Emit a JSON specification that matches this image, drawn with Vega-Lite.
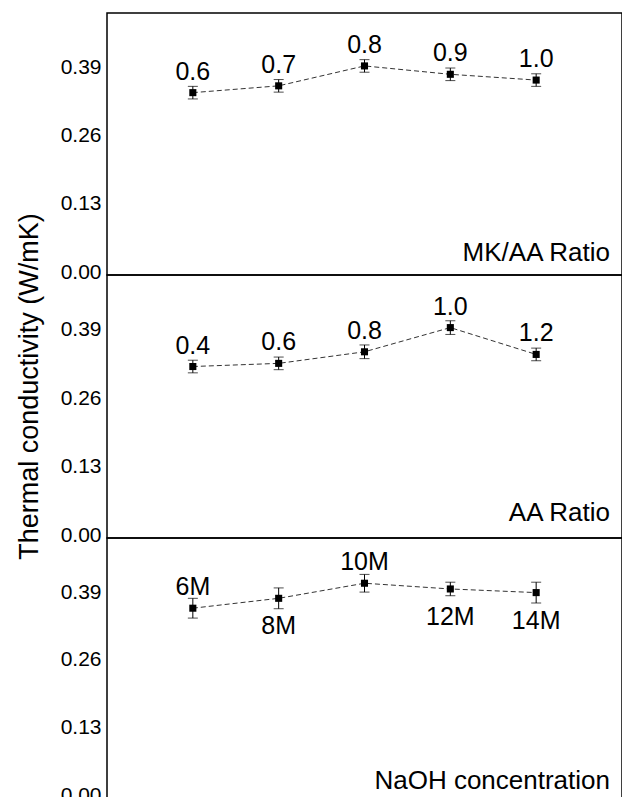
{
  "$schema": "https://vega.github.io/schema/vega-lite/v6.json",
  "autosize": {"type": "pad"},
  "padding": {"left": 14, "top": 12, "right": 0, "bottom": 0},
  "background": "white",
  "spacing": 0,
  "bounds": "flush",
  "config": {
    "font": "Liberation Sans",
    "view": {"stroke": "black", "strokeWidth": 1.5},
    "axis": {"grid": false}
  },
  "datasets": {
    "d": [
      {"panel": "MK/AA Ratio", "i": 1, "label": "0.6", "v": 0.348, "e": 0.012, "side": "above"},
      {"panel": "MK/AA Ratio", "i": 2, "label": "0.7", "v": 0.361, "e": 0.012, "side": "above"},
      {"panel": "MK/AA Ratio", "i": 3, "label": "0.8", "v": 0.399, "e": 0.012, "side": "above"},
      {"panel": "MK/AA Ratio", "i": 4, "label": "0.9", "v": 0.383, "e": 0.012, "side": "above"},
      {"panel": "MK/AA Ratio", "i": 5, "label": "1.0", "v": 0.372, "e": 0.012, "side": "above"},
      {"panel": "AA Ratio", "i": 1, "label": "0.4", "v": 0.326, "e": 0.012, "side": "above"},
      {"panel": "AA Ratio", "i": 2, "label": "0.6", "v": 0.332, "e": 0.012, "side": "above"},
      {"panel": "AA Ratio", "i": 3, "label": "0.8", "v": 0.354, "e": 0.013, "side": "above"},
      {"panel": "AA Ratio", "i": 4, "label": "1.0", "v": 0.400, "e": 0.013, "side": "above"},
      {"panel": "AA Ratio", "i": 5, "label": "1.2", "v": 0.349, "e": 0.012, "side": "above"},
      {"panel": "NaOH concentration", "i": 1, "label": "6M", "v": 0.365, "e": 0.019, "side": "above"},
      {"panel": "NaOH concentration", "i": 2, "label": "8M", "v": 0.384, "e": 0.020, "side": "below"},
      {"panel": "NaOH concentration", "i": 3, "label": "10M", "v": 0.413, "e": 0.017, "side": "above"},
      {"panel": "NaOH concentration", "i": 4, "label": "12M", "v": 0.402, "e": 0.013, "side": "below"},
      {"panel": "NaOH concentration", "i": 5, "label": "14M", "v": 0.395, "e": 0.020, "side": "below"}
    ]
  },
  "vconcat": [
    {
      "width": 515, "height": 262,
      "data": {"name": "d"},
      "transform": [{"filter": "datum.panel === 'MK/AA Ratio'"}],
      "encoding": {
        "x": {"field": "i", "type": "quantitative", "scale": {"domain": [0, 6]}, "axis": null},
        "y": {"field": "v", "type": "quantitative", "scale": {"domain": [0, 0.5]},
          "axis": {"values": [0, 0.13, 0.26, 0.39], "format": ".2f", "title": null, "domain": false, "ticks": false,
            "labelFontSize": 21, "labelColor": "black", "labelPadding": 6, "labelOffset": -3}}
      },
      "layer": [
        {"mark": {"type": "line", "strokeDash": [5, 3], "strokeWidth": 1, "color": "#333"}},
        {"mark": {"type": "errorbar", "ticks": {"size": 10, "color": "black"}, "color": "black", "thickness": 1}, "encoding": {"yError": {"field": "e"}}},
        {"mark": {"type": "point", "shape": "square", "filled": true, "size": 50, "color": "black", "opacity": 1}},
        {"transform": [{"filter": "datum.side === 'above'"}], "mark": {"type": "text", "fontSize": 25, "baseline": "alphabetic", "dy": -13, "color": "black"}, "encoding": {"text": {"field": "label"}}},
        {"transform": [{"filter": "datum.side === 'below'"}], "mark": {"type": "text", "fontSize": 25, "baseline": "alphabetic", "dy": 36, "color": "black"}, "encoding": {"text": {"field": "label"}}},
        {"transform": [{"filter": "datum.i === 1"}], "mark": {"type": "text", "fontSize": 26, "align": "right", "baseline": "alphabetic", "dx": -12, "dy": -14, "color": "black"},
          "encoding": {"x": {"datum": 6}, "y": {"datum": 0}, "text": {"field": "panel"}}}
      ]
    },
    {
      "width": 515, "height": 263,
      "data": {"name": "d"},
      "transform": [{"filter": "datum.panel === 'AA Ratio'"}],
      "encoding": {
        "x": {"field": "i", "type": "quantitative", "scale": {"domain": [0, 6]}, "axis": null},
        "y": {"field": "v", "type": "quantitative", "scale": {"domain": [0, 0.5]},
          "axis": {"values": [0, 0.13, 0.26, 0.39], "format": ".2f", "title": "Thermal conductivity (W/mK)", "domain": false, "ticks": false,
            "labelFontSize": 21, "labelColor": "black", "labelPadding": 6, "labelOffset": -3,
            "titleFontSize": 27, "titleFontWeight": "normal", "titleColor": "black", "titleAngle": -90,
            "titleX": -70, "titleY": 111, "titleAlign": "center", "titleBaseline": "alphabetic"}}
      },
      "layer": [
        {"mark": {"type": "line", "strokeDash": [5, 3], "strokeWidth": 1, "color": "#333"}},
        {"mark": {"type": "errorbar", "ticks": {"size": 10, "color": "black"}, "color": "black", "thickness": 1}, "encoding": {"yError": {"field": "e"}}},
        {"mark": {"type": "point", "shape": "square", "filled": true, "size": 50, "color": "black", "opacity": 1}},
        {"transform": [{"filter": "datum.side === 'above'"}], "mark": {"type": "text", "fontSize": 25, "baseline": "alphabetic", "dy": -13, "color": "black"}, "encoding": {"text": {"field": "label"}}},
        {"transform": [{"filter": "datum.side === 'below'"}], "mark": {"type": "text", "fontSize": 25, "baseline": "alphabetic", "dy": 36, "color": "black"}, "encoding": {"text": {"field": "label"}}},
        {"transform": [{"filter": "datum.i === 1"}], "mark": {"type": "text", "fontSize": 26, "align": "right", "baseline": "alphabetic", "dx": -12, "dy": -17, "color": "black"},
          "encoding": {"x": {"datum": 6}, "y": {"datum": 0}, "text": {"field": "panel"}}}
      ]
    },
    {
      "width": 515, "height": 260,
      "data": {"name": "d"},
      "transform": [{"filter": "datum.panel === 'NaOH concentration'"}],
      "encoding": {
        "x": {"field": "i", "type": "quantitative", "scale": {"domain": [0, 6]}, "axis": null},
        "y": {"field": "v", "type": "quantitative", "scale": {"domain": [0, 0.5]},
          "axis": {"values": [0, 0.13, 0.26, 0.39], "format": ".2f", "title": null, "domain": false, "ticks": false,
            "labelFontSize": 21, "labelColor": "black", "labelPadding": 6, "labelOffset": -3}}
      },
      "layer": [
        {"mark": {"type": "line", "strokeDash": [5, 3], "strokeWidth": 1, "color": "#333"}},
        {"mark": {"type": "errorbar", "ticks": {"size": 10, "color": "black"}, "color": "black", "thickness": 1}, "encoding": {"yError": {"field": "e"}}},
        {"mark": {"type": "point", "shape": "square", "filled": true, "size": 50, "color": "black", "opacity": 1}},
        {"transform": [{"filter": "datum.side === 'above'"}], "mark": {"type": "text", "fontSize": 25, "baseline": "alphabetic", "dy": -13, "color": "black"}, "encoding": {"text": {"field": "label"}}},
        {"transform": [{"filter": "datum.side === 'below'"}], "mark": {"type": "text", "fontSize": 25, "baseline": "alphabetic", "dy": 36, "color": "black"}, "encoding": {"text": {"field": "label"}}},
        {"transform": [{"filter": "datum.i === 1"}], "mark": {"type": "text", "fontSize": 26, "align": "right", "baseline": "alphabetic", "dx": -12, "dy": -9, "color": "black"},
          "encoding": {"x": {"datum": 6}, "y": {"datum": 0}, "text": {"field": "panel"}}}
      ]
    }
  ]
}
